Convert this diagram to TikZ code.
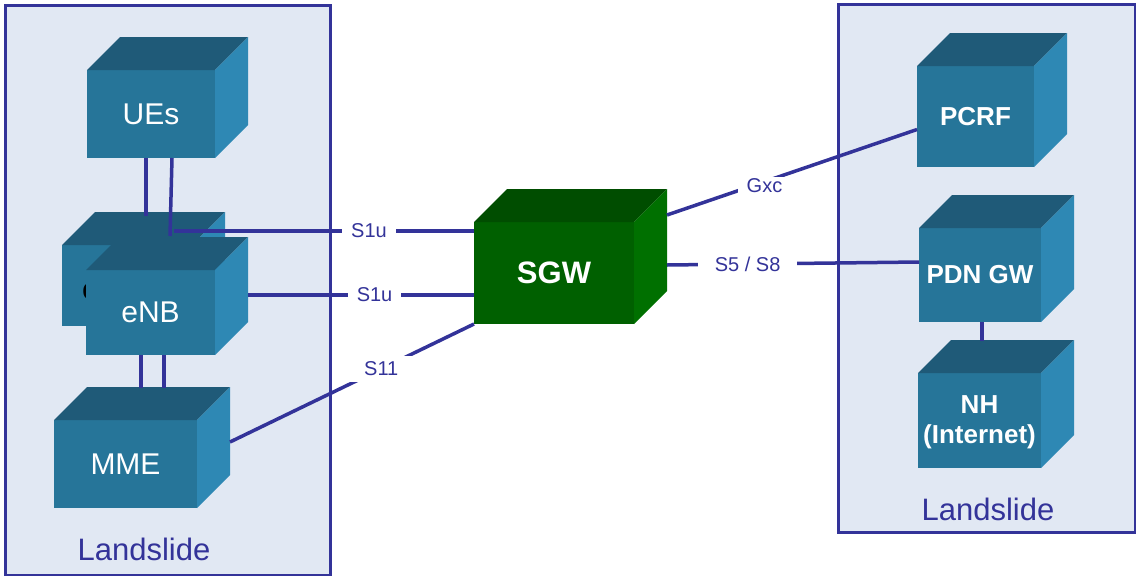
\documentclass[tikz,border=0pt]{standalone}
\usepackage{fontspec}
\setmainfont{Liberation Sans}
\usepackage{xcolor}
\definecolor{boxfront}{HTML}{267599}
\definecolor{boxtop}{HTML}{1F5A78}
\definecolor{boxside}{HTML}{2E88B4}
\definecolor{gwfront}{HTML}{006000}
\definecolor{gwtop}{HTML}{004D00}
\definecolor{gwside}{HTML}{007000}
\definecolor{siteblue}{HTML}{333399}
\definecolor{sitefill}{HTML}{E1E8F3}
\usetikzlibrary{calc}
\tikzset{
  bluefront/.style={fill=boxfront,text=white,inner sep=0pt,outer sep=0pt,
                    align=center,font=\fontsize{30}{32}\selectfont},
  bluetop/.style  ={fill=boxtop},
  blueside/.style ={fill=boxside},
  greenfront/.style={fill=gwfront,text=white,inner sep=0pt,outer sep=0pt,
                    align=center,font=\fontsize{31}{33}\selectfont\bfseries},
  greentop/.style ={fill=gwtop},
  greenside/.style={fill=gwside},
  heavy/.style    ={font=\fontsize{26}{30}\selectfont\bfseries},
  frame/.style    ={draw=siteblue,fill=sitefill,line width=3pt},
  site/.style     ={text=siteblue,font=\fontsize{31}{36}\selectfont},
  link/.style     ={draw=siteblue,line width=3.5pt},
  lbl/.style      ={fill=white,text=siteblue,font=\fontsize{20}{24}\selectfont,
                    inner xsep=9pt,inner ysep=2pt},
}
% box with a top and a right face, depth 33
\newcommand{\netcube}[7][]{%
  \node[#6front,minimum width=#4,minimum height=#5,#1] (#2) at (#3) {#7};
  \fill[#6top] (#2.north west) -- ++(33,-33) -- ++(#4,0) -- (#2.north east) -- cycle;
  \fill[#6side] (#2.north east) -- ++(33,-33) -- ++(0,#5) -- (#2.south east) -- cycle;
}

\begin{document}
\begin{tikzpicture}[x=1pt,y=-1pt]
\useasboundingbox (0,0) rectangle (1136,576);
% the two sites
\draw[frame] (5,5) rectangle (330,575);
\draw[frame] (838,4) rectangle (1135,532);
\node[site] (siteL) at (144,549) {Landslide};
\node[site] (siteR) at (988,509) {Landslide};

% left site
\netcube{ues}{151,114}{128}{88}{blue}{UEs}
\netcube{enbback}{127,285.5}{130}{81}{blue}{}
\node[anchor=west,text=black,font=\fontsize{30}{32}\selectfont,inner sep=0pt] (enbbacktxt) at (82,289) {eNB};
\netcube{enb}{150.5,312.5}{129}{85}{blue}{eNB}
\netcube{mme}{125.5,464}{143}{88}{blue}{MME}

% core
\netcube{sgw}{554,273}{160}{102}{green}{SGW}

% right site
\netcube[heavy]{pcrf}{975.5,116.5}{117}{101}{blue}{PCRF}
\netcube[heavy]{pdn}{980,275}{122}{94}{blue}{PDN GW}
\netcube[heavy]{nh}{979.5,420.5}{123}{95}{blue}{\\[-8pt]NH\\(Internet)}

% links
\coordinate (ueA) at (146,216);
\coordinate (ueB) at (170,236);
\coordinate (s1a) at (174,231);
\draw[link] ($(ues.south west)+(59,0)$) -- (ueA);
\draw[link] ($(ues.south west)+(85,0)$) -- (ueB);
\draw[link] (s1a) -- (s1a -| sgw.west) node[lbl,pos=.65]{S1u};
\draw[link] ($(enb.east)+(33,-17.5)$) coordinate (s1b) -- (s1b -| sgw.west)
  node[lbl,pos=.56]{S1u};
\draw[link] ($(enb.south west)+(55,0)$) -- ($(mme.north west)+(87,-32)$);
\draw[link] ($(enb.south west)+(78,0)$) -- ($(mme.north west)+(110,-32)$);
\draw[link] ($(mme.east)+(33,-22)$) -- (sgw.south west)
  node[lbl,pos=.62,inner xsep=17pt,inner ysep=6pt]{S11};
\draw[link] ($(sgw.east)+(33,-58)$) -- ($(pcrf.west)+(0,13)$)
  node[lbl,pos=.39,yshift=-4pt]{Gxc};
\draw[link] ($(sgw.east)+(33,-8)$) -- ($(pdn.west)+(0,-13)$)
  node[lbl,pos=.32,inner xsep=17pt]{S5 / S8};
\draw[link] ($(pdn.south)+(2,0)$) -- ($(nh.north)+(2.5,-32)$);
\end{tikzpicture}
\end{document}
